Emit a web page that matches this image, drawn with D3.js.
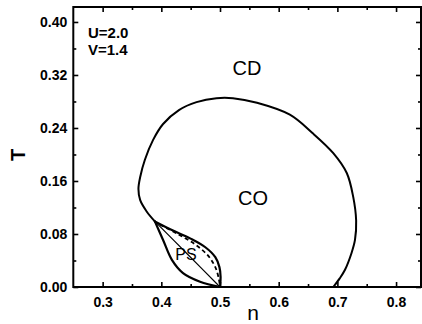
<!DOCTYPE html>
<html>
<head>
<meta charset="utf-8">
<script src="https://cdn.jsdelivr.net/npm/d3@7"></script>
<style>
  html, body { margin: 0; padding: 0; background: #fff; }
  svg { display: block; }
  text { font-family: "Liberation Sans", Arial, sans-serif; fill: #000; }
</style>
</head>
<body>
<svg id="chart" width="422" height="324"></svg>
<script>
// ---- data ----
const xMajorTicks = [0.3, 0.4, 0.5, 0.6, 0.7, 0.8];
const xMinorTicks = [0.35, 0.45, 0.55, 0.65, 0.75];
const yMajorTicks = [0.00, 0.08, 0.16, 0.24, 0.32, 0.40];
const yMinorTicks = [0.04, 0.12, 0.20, 0.28, 0.36];

// CO / CD boundary (n, T)
const coBoundary = [
  [0.389,0.099],[0.375,0.114],[0.364,0.131],[0.361,0.148],[0.364,0.166],
  [0.372,0.192],[0.386,0.222],[0.403,0.246],[0.430,0.267],[0.460,0.279],
  [0.494,0.285],[0.522,0.285],[0.563,0.278],[0.619,0.260],
  [0.658,0.232],[0.693,0.202],[0.716,0.172],[0.727,0.136],[0.732,0.100],
  [0.730,0.071],[0.724,0.051],[0.713,0.026],[0.704,0.013],[0.693,0.000]
];
// PS region upper boundary
const psUpper = [
  [0.389,0.099],[0.418,0.086],[0.450,0.073],[0.475,0.060],[0.492,0.045],
  [0.499,0.030],[0.501,0.015],[0.500,0.000]
];
// PS region lower boundary
const psLower = [
  [0.389,0.099],[0.403,0.071],[0.418,0.041],[0.437,0.021],[0.466,0.008],
  [0.500,0.000]
];
// thin inner line
const psThin = [[0.389,0.099],[0.443,0.051],[0.500,0.000]];
// dashed inner line
const psDashed = [
  [0.398,0.094],[0.430,0.079],[0.458,0.064],[0.479,0.048],
  [0.492,0.030],[0.498,0.012],[0.500,0.000]
];

const xDomain = [0.25, 0.8425];
const yDomain = [0, 0.4226];

// ---- layout ----
const svg = d3.select("#chart");
const L = 73.3, R = 421, T = 7, B = 287;
const x = d3.scaleLinear().domain(xDomain).range([L, R]);
const y = d3.scaleLinear().domain(yDomain).range([B, T]);

const fmt2 = d3.format(".2f"), fmt1 = d3.format(".1f");

function styleAxis(g) {
  g.select(".domain").remove();
  g.selectAll(".tick line").attr("stroke", "#000").attr("stroke-width", 1.6);
  g.selectAll(".tick text").attr("font-size", 14).attr("font-weight", "bold")
    .attr("font-family", '"Liberation Sans", Arial, sans-serif').attr("fill", "#000");
}

// bottom
svg.append("g").attr("transform", `translate(0,${B})`)
  .call(d3.axisBottom(x).tickValues(xMajorTicks).tickSize(-5).tickPadding(10).tickFormat(fmt1))
  .call(styleAxis);
svg.append("g").attr("transform", `translate(0,${B})`)
  .call(d3.axisBottom(x).tickValues(xMinorTicks).tickSize(-3).tickFormat(""))
  .call(styleAxis);
// top
svg.append("g").attr("transform", `translate(0,${T})`)
  .call(d3.axisTop(x).tickValues(xMajorTicks).tickSize(-5).tickFormat(""))
  .call(styleAxis);
svg.append("g").attr("transform", `translate(0,${T})`)
  .call(d3.axisTop(x).tickValues(xMinorTicks).tickSize(-3).tickFormat(""))
  .call(styleAxis);
// left
svg.append("g").attr("transform", `translate(${L},0)`)
  .call(d3.axisLeft(y).tickValues(yMajorTicks).tickSize(-5).tickPadding(6).tickFormat(fmt2))
  .call(styleAxis);
svg.append("g").attr("transform", `translate(${L},0)`)
  .call(d3.axisLeft(y).tickValues(yMinorTicks).tickSize(-3).tickFormat(""))
  .call(styleAxis);
// right
svg.append("g").attr("transform", `translate(${R},0)`)
  .call(d3.axisRight(y).tickValues(yMajorTicks).tickSize(-5).tickFormat(""))
  .call(styleAxis);
svg.append("g").attr("transform", `translate(${R},0)`)
  .call(d3.axisRight(y).tickValues(yMinorTicks).tickSize(-3).tickFormat(""))
  .call(styleAxis);

// frame
svg.append("rect").attr("x", L).attr("y", T).attr("width", R - L).attr("height", B - T)
  .attr("fill", "none").attr("stroke", "#000").attr("stroke-width", 2);

// curves
const line = d3.line().x(d => x(d[0])).y(d => y(d[1])).curve(d3.curveCatmullRom.alpha(0.5));
const curves = svg.append("g").attr("fill", "none").attr("stroke", "#000")
  .attr("stroke-linejoin", "round").attr("stroke-linecap", "round");
curves.append("path").attr("d", line(coBoundary)).attr("stroke-width", 2);
curves.append("path").attr("d", line(psUpper)).attr("stroke-width", 2.2);
curves.append("path").attr("d", line(psLower)).attr("stroke-width", 2.2);
curves.append("path").attr("d", line(psThin)).attr("stroke-width", 1.2);
curves.append("path").attr("d", line(psDashed)).attr("stroke-width", 1.8)
  .attr("stroke-dasharray", "4,3").attr("stroke-linecap", "butt");

// labels
svg.append("text").attr("x", 88).attr("y", 38).attr("font-size", 15).attr("font-weight", "bold").text("U=2.0");
svg.append("text").attr("x", 88).attr("y", 55).attr("font-size", 15).attr("font-weight", "bold").text("V=1.4");
svg.append("text").attr("x", 247).attr("y", 75).attr("font-size", 20).attr("text-anchor", "middle").text("CD");
svg.append("text").attr("x", 253).attr("y", 205).attr("font-size", 20).attr("text-anchor", "middle").text("CO");
svg.append("text").attr("x", 186).attr("y", 260).attr("font-size", 16).attr("text-anchor", "middle").text("PS");

svg.append("text").attr("x", 253).attr("y", 320).attr("font-size", 21).attr("text-anchor", "middle").text("n");
svg.append("text").attr("transform", "translate(25,155) rotate(-90)").attr("font-size", 20)
  .attr("font-weight", "bold").attr("text-anchor", "middle").text("T");
</script>
</body>
</html>
